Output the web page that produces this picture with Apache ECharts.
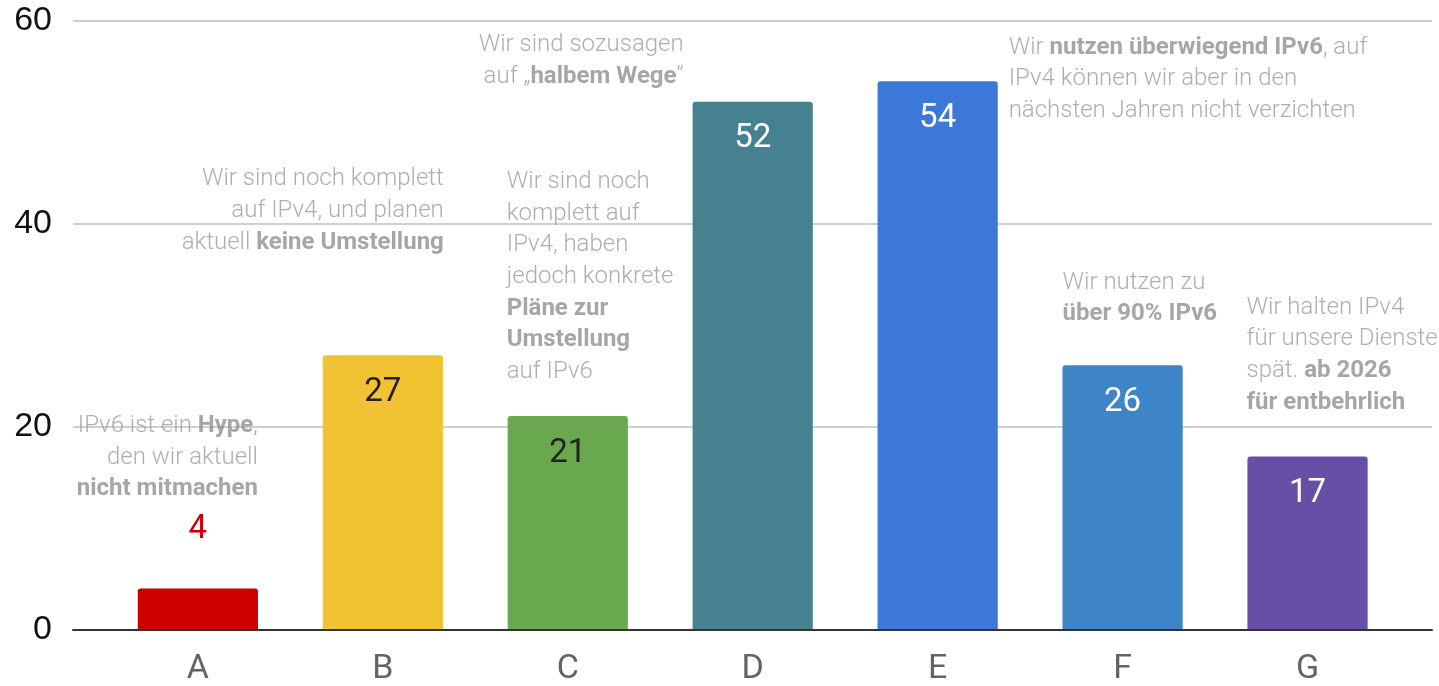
<!DOCTYPE html>
<html>
<head>
<meta charset="utf-8">
<script src="https://cdn.jsdelivr.net/npm/echarts@6/dist/echarts.min.js"></script>
<style>
  html, body { margin: 0; padding: 0; background: #fff; }
  #main { width: 1439px; height: 686px; }
</style>
</head>
<body>
<div id="main"></div>
<script>
// data
var categories = ['A', 'B', 'C', 'D', 'E', 'F', 'G'];
var values = [4, 27, 21, 52, 54, 26, 17];
var yTicks = [0, 20, 40, 60];

// annotation texts, one per bar ({b|..} = bold)
var notes = [
    'IPv6 ist ein {b|Hype},\nden wir aktuell\n{b|nicht mitmachen}',
    'Wir sind noch komplett\nauf IPv4, und planen\naktuell {b|keine Umstellung}',
    'Wir sind noch\nkomplett auf\nIPv4, haben\njedoch konkrete\n{b|Pläne zur}\n{b|Umstellung}\nauf IPv6',
    'Wir sind sozusagen\nauf „{b|halbem Wege}“',
    'Wir {b|nutzen überwiegend IPv6}, auf\nIPv4 können wir aber in den\nnächsten Jahren nicht verzichten',
    'Wir nutzen zu\n{b|über 90% IPv6}',
    'Wir halten IPv4\nfür unsere Dienste\nspät. {b|ab 2026}\n{b|für entbehrlich}'
];

// styling
var barColors = ['#cc0000', '#f1c232', '#6aa84f', '#45818e', '#3c78d8', '#3d85c6', '#674ea7'];
var labelColors = ['#cc0000', '#222', '#222', '#fff', '#fff', '#fff', '#fff'];
// where each note sits: anchor y (axis units), x shift in px, alignment
var noteLayout = [
    {y: 16.9, dx: 60, align: 'right'},
    {y: 41.2, dx: 61, align: 'right'},
    {y: 34.7, dx: -61, align: 'left'},
    {y: 56.0, dx: -69, align: 'right'},
    {y: 54.2, dx: 71, align: 'left'},
    {y: 32.6, dx: -60, align: 'left'},
    {y: 27.0, dx: -61, align: 'left'}
];

var font = 'Roboto, "Noto Sans", sans-serif';
var noteColor = '#9a9a9a';

var barData = values.map(function (v, i) {
    var item = {
        value: v,
        itemStyle: {color: barColors[i]},
        label: {color: labelColors[i]}
    };
    if (i === 0) {
        item.label.position = 'top';
        item.label.distance = 42;
    }
    return item;
});

var noteData = notes.map(function (t, i) {
    var l = noteLayout[i];
    return {
        value: [i, l.y],
        label: {
            formatter: t,
            align: l.align,
            offset: [l.dx, 0]
        }
    };
});

var myChart = echarts.init(document.getElementById('main'));
myChart.setOption({
    animation: false,
    grid: [
        {left: 73, right: 7, top: 20.5, bottom: 56},
        {left: 105.4, right: 39, top: 20.5, bottom: 56}
    ],
    xAxis: [
        {
            gridIndex: 0, type: 'category', data: [''],
            axisLine: {show: true, lineStyle: {color: '#333', width: 2}},
            axisTick: {show: false}, axisLabel: {show: false}
        },
        {
            gridIndex: 1, type: 'category', data: categories,
            axisLine: {show: false}, axisTick: {show: false},
            axisLabel: {color: '#636363', fontSize: 34, fontFamily: font, margin: 23}
        }
    ],
    yAxis: [
        {
            gridIndex: 0, type: 'value', min: yTicks[0], max: yTicks[yTicks.length - 1], interval: 20,
            axisLine: {show: false}, axisTick: {show: false},
            axisLabel: {color: '#111', fontSize: 34, fontFamily: '"Liberation Sans", Arial, sans-serif', margin: 21},
            splitLine: {lineStyle: {color: '#cfcfcf', width: 2}}
        },
        {
            gridIndex: 1, type: 'value', min: yTicks[0], max: yTicks[yTicks.length - 1], interval: 20,
            show: false
        }
    ],
    series: [
        {
            type: 'bar', xAxisIndex: 1, yAxisIndex: 1,
            barWidth: '65%',
            data: barData,
            itemStyle: {borderRadius: [3, 3, 0, 0]},
            label: {
                show: true, position: 'insideTop', distance: 21,
                fontSize: 33, fontFamily: font
            },
            silent: true
        },
        {
            type: 'scatter', xAxisIndex: 1, yAxisIndex: 1,
            symbolSize: 0,
            data: noteData,
            silent: true,
            z: 5,
            label: {
                show: true,
                position: 'inside',
                verticalAlign: 'middle',
                color: noteColor,
                fontFamily: font,
                fontWeight: 300,
                fontSize: 24,
                lineHeight: 31.7,
                rich: {
                    b: {
                        color: '#909090', fontFamily: font, fontWeight: 'bold',
                        fontSize: 24, lineHeight: 31.7
                    }
                }
            }
        }
    ]
});
</script>
</body>
</html>
